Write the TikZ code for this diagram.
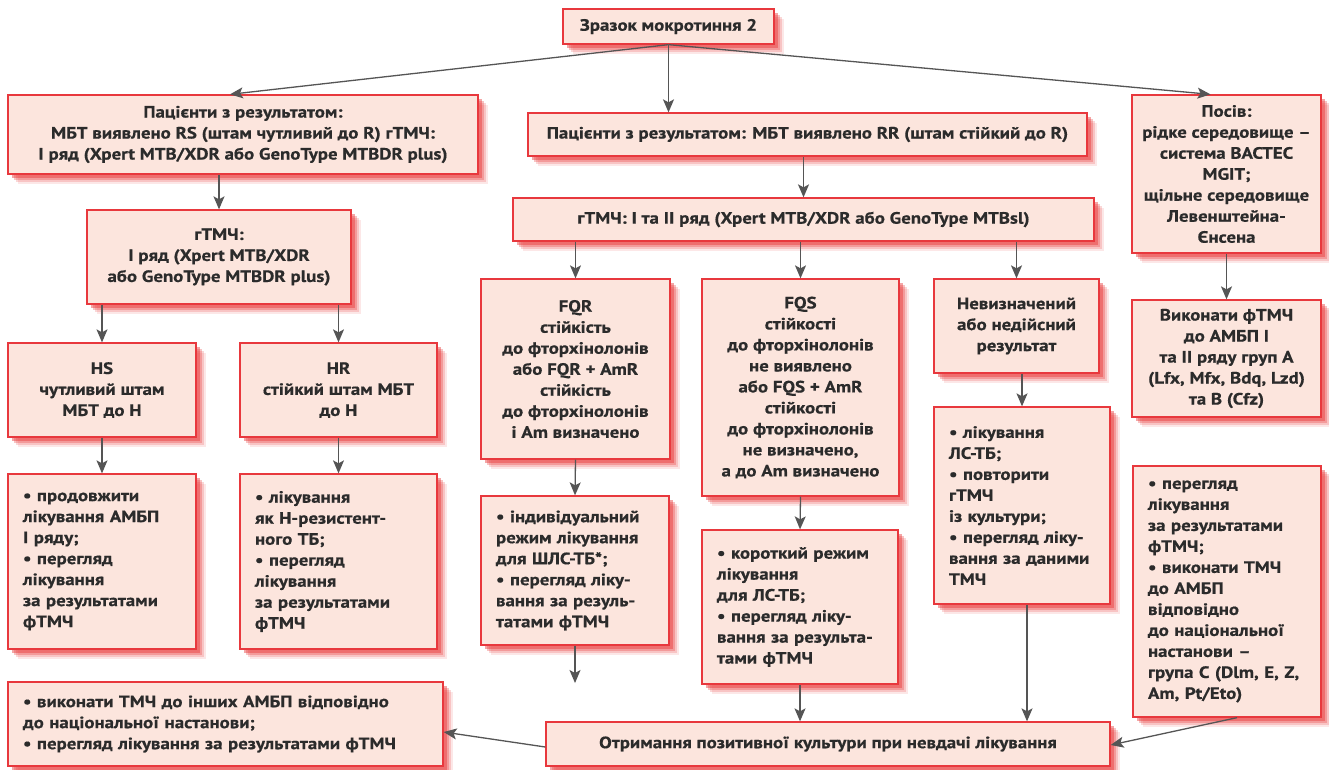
\documentclass[tikz,border=0pt]{standalone}
\usepackage{fontspec}
\setmainfont{PT Sans}[FakeStretch=1.15, BoldFeatures={FakeBold=0.6}]
\usetikzlibrary{arrows.meta,shadows}
\definecolor{boxfill}{HTML}{FCE5DD}
\definecolor{boxline}{HTML}{E8383D}
\definecolor{shadowc}{HTML}{E83A3A}
\definecolor{arrowc}{HTML}{555555}
\definecolor{textc}{HTML}{2B2B2B}
\tikzset{
 box/.style={draw=boxline, line width=1.3pt, fill=boxfill, text=textc,
   font=\fontsize{16.4}{21}\selectfont\bfseries, inner sep=0pt,
   general shadow={fill=shadowc, opacity=0.12, shadow xshift=10pt, shadow yshift=-10pt},
   general shadow={fill=shadowc, opacity=0.2, shadow xshift=8pt, shadow yshift=-8pt},
   general shadow={fill=shadowc, opacity=0.3, shadow xshift=6pt, shadow yshift=-6pt},
   general shadow={fill=shadowc, opacity=0.45, shadow xshift=3.5pt, shadow yshift=-3.5pt}},
 cbox/.style={box, align=center},
 lbox/.style={box, align=left, inner xsep=15pt},
 arr/.style={draw=arrowc, line width=1.3pt, -{Stealth[length=13pt,width=11pt,inset=3pt]}},
}
\begin{document}
\begin{tikzpicture}[x=1pt,y=-1pt]
\fill[white] (0,0) rectangle (1329,769);
\useasboundingbox (0,0) rectangle (1329,769);

\node[cbox, minimum width=211pt, minimum height=35pt] (top) at (668.5,26.5) {Зразок мокротиння 2};
\node[cbox, minimum width=470pt, minimum height=79pt] (L1) at (243,134.5) {Пацієнти з результатом:\\ МБТ виявлено RS (штам чутливий до R) гТМЧ:\\ I ряд (Xpert MTB/XDR або GenoType MTBDR plus)};
\node[cbox, minimum width=559pt, minimum height=43pt] (M1) at (807.5,134.5) {Пацієнти з результатом: МБТ виявлено RR (штам стійкий до R)};
\node[cbox, minimum width=189pt, minimum height=158pt] (R1) at (1226.5,174) {Посів:\\ рідке середовище –\\ система BACTEC\\ MGIT;\\ щільне середовище\\ Левенштейна-\\ Єнсена};
\node[cbox, minimum width=264pt, minimum height=94pt] (L2) at (219,257) {гТМЧ:\\ I ряд (Xpert MTB/XDR\\ або GenoType MTBDR plus)};
\node[cbox, minimum width=581pt, minimum height=43pt] (M2) at (803.5,219.5) {гТМЧ: I та II ряд (Xpert MTB/XDR або GenoType MTBsl)};
\node[cbox, minimum width=189pt, minimum height=180pt] (FQR) at (575.5,369) {FQR\\ стійкість\\ до фторхінолонів\\ або FQR + AmR\\ стійкість\\ до фторхінолонів\\ і Am визначено};
\node[cbox, minimum width=197pt, minimum height=217pt] (FQS) at (800.5,387.5) {FQS\\ стійкості\\ до фторхінолонів\\ не виявлено\\ або FQS + AmR\\ стійкості\\ до фторхінолонів\\ не визначено,\\ а до Am визначено};
\node[cbox, minimum width=165pt, minimum height=94pt] (UND) at (1016.5,326) {Невизначений\\ або недійсний\\ результат};
\node[cbox, minimum width=189pt, minimum height=117pt] (R2) at (1226.5,358.5) {Виконати фТМЧ\\ до АМБП I\\ та II ряду груп A\\ (Lfx, Mfx, Bdq, Lzd)\\ та B (Cfz)};
\node[cbox, minimum width=188pt, minimum height=94pt] (HS) at (102,390) {HS\\ чутливий штам\\ МБТ до H};
\node[cbox, minimum width=197pt, minimum height=94pt] (HR) at (338.5,390) {HR\\ стійкий штам МБТ\\ до H};

\node[lbox, text width=158pt, minimum height=175pt] (B1) at (102,561.5) {• продовжити\\ лікування АМБП\\ I ряду;\\ • перегляд\\ лікування\\ за результатами\\ фТМЧ};
\node[lbox, text width=167pt, minimum height=175pt] (B2) at (338.5,561.5) {• лікування\\ як H-резистент-\\ ного ТБ;\\ • перегляд\\ лікування\\ за результатами\\ фТМЧ};
\node[lbox, text width=158pt, minimum height=149pt] (B3) at (575,570.5) {• індивідуальний\\ режим лікування\\ для ШЛС-ТБ*;\\ • перегляд ліку-\\ вання за резуль-\\ татами фТМЧ};
\node[lbox, text width=166pt, minimum height=154pt] (B4) at (800,607) {• короткий режим\\ лікування\\ для ЛС-ТБ;\\ • перегляд ліку-\\ вання за результа-\\ тами фТМЧ};
\node[lbox, text width=146pt, minimum height=197pt] (B5) at (1022,505.5) {• лікування\\ ЛС-ТБ;\\ • повторити\\ гТМЧ\\ із культури;\\ • перегляд ліку-\\ вання за даними\\ ТМЧ};
\node[lbox, text width=158pt, minimum height=251pt] (B6) at (1227,591.5) {• перегляд\\ лікування\\ за результатами\\ фТМЧ;\\ • виконати ТМЧ\\ до АМБП\\ відповідно\\ до національної\\ настанови –\\ група C (Dlm, E, Z,\\ Am, Pt/Eto)};
\node[lbox, text width=405pt, minimum height=84pt] (BL) at (225.5,724) {• виконати ТМЧ до інших АМБП відповідно\\ до національної настанови;\\ • перегляд лікування за результатами фТМЧ};
\node[cbox, minimum width=564pt, minimum height=44pt] (BC) at (828,744) {Отримання позитивної культури при невдачі лікування};

\coordinate (fqrend) at (575,683);

\draw[arr] (top.south) -- ([xshift=-13pt]L1.north);
\draw[arr] (top.south) -- (top.south |- M1.north);
\draw[arr] (top.south) -- ([xshift=-16pt]R1.north);
\draw[arr] (L2.north |- L1.south) -- (L2.north);
\draw[arr] (M2.north |- M1.south) -- (M2.north);
\draw[arr] (FQR.north |- M2.south) -- (FQR.north);
\draw[arr] (FQS.north |- M2.south) -- (FQS.north);
\draw[arr] (UND.north |- M2.south) -- (UND.north);
\draw[arr] (R1.south) -- (R2.north);
\draw[arr] (HS.north |- L2.south) -- (HS.north);
\draw[arr] (HR.north |- L2.south) -- (HR.north);
\draw[arr] (HS.south) -- (B1.north);
\draw[arr] (HR.south) -- (B2.north);
\draw[arr] (FQR.south) -- (B3.north);
\draw[arr] (B3.south) -- (fqrend);
\draw[arr] (FQS.south) -- (B4.north);
\draw[arr] (B4.south) -- (B4.south |- BC.north);
\draw[arr] (B5.north |- UND.south) -- (B5.north);
\draw[arr] ([xshift=5pt]B5.south) -- ([xshift=5pt]B5.south |- BC.north);
\draw[arr] ([xshift=10pt]B6.south) -- ([yshift=-1pt]BC.east);
\draw[arr] ([yshift=-3pt]BC.west) -- ([yshift=-8pt]BL.east);
\end{tikzpicture}
\end{document}
